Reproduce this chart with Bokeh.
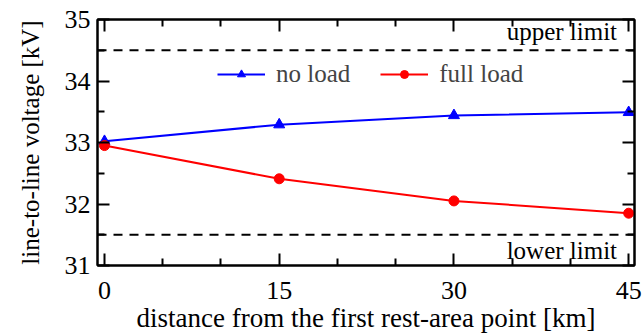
from bokeh.plotting import figure
from bokeh.models import (Range1d, FixedTicker, LinearAxis, Span, Label, Legend, LegendItem)
from bokeh.embed import file_html
from bokeh.resources import INLINE

distance_km = [0, 15, 30, 45]
no_load_kv = [33.02, 33.29, 33.44, 33.49]
full_load_kv = [32.95, 32.41, 32.05, 31.85]
upper_limit_kv = 34.5
lower_limit_kv = 31.5
x_ticks = [0, 15, 30, 45]
x_minor = [5, 10, 20, 25, 35, 40]
y_ticks = [31, 32, 33, 34, 35]
y_minor = [31.5, 32.5, 33.5, 34.5]
x_title = "distance from the first rest-area point [km]"
y_title = "line-to-line voltage [kV]"

FONT = "Liberation Serif"

p = figure(width=642, height=335, output_backend="svg", toolbar_location=None,
           x_range=Range1d(-0.6, 45.5), y_range=Range1d(31, 35),
           min_border_left=97, min_border_right=8, min_border_top=19, min_border_bottom=70)
p.background_fill_color = "white"
p.border_fill_color = "white"
p.outline_line_color = "black"
p.outline_line_width = 2
p.xgrid.visible = False
p.ygrid.visible = False

def style_axis(ax, ticks, minor, labels=True):
    ax.ticker = FixedTicker(ticks=ticks, minor_ticks=minor)
    ax.axis_line_width = 2
    ax.axis_line_color = "black"
    ax.major_tick_in = 12
    ax.major_tick_out = 0
    ax.minor_tick_in = 7
    ax.minor_tick_out = 0
    ax.major_tick_line_width = 2
    ax.minor_tick_line_width = 2
    ax.major_label_text_font = FONT
    ax.major_label_text_font_size = "26px"
    ax.major_label_text_color = "black"
    ax.axis_label_text_font = FONT
    ax.axis_label_text_font_size = "26px"
    ax.axis_label_text_font_style = "normal"
    ax.axis_label_text_color = "black"
    if not labels:
        ax.major_label_text_font_size = "0px"
        ax.major_label_text_alpha = 0

style_axis(p.xaxis[0], x_ticks, x_minor)
style_axis(p.yaxis[0], y_ticks, y_minor)
p.xaxis[0].axis_label = x_title
p.xaxis[0].axis_label_text_font_size = "27px"
p.yaxis[0].axis_label = y_title
p.yaxis[0].axis_label_text_font_size = "25px"
p.xaxis[0].major_label_standoff = 16
p.xaxis[0].axis_label_standoff = 1
p.yaxis[0].major_label_standoff = 7
p.yaxis[0].axis_label_standoff = 18

top_ax = LinearAxis()
style_axis(top_ax, x_ticks, x_minor, labels=False)
right_ax = LinearAxis()
style_axis(right_ax, y_ticks, y_minor, labels=False)
p.add_layout(top_ax, "above")
p.add_layout(right_ax, "right")
top_ax.major_label_standoff = 0
right_ax.major_label_standoff = 0

for yv in (upper_limit_kv, lower_limit_kv):
    p.add_layout(Span(location=yv, dimension="width", line_color="black",
                      line_width=2, line_dash="9 7"))

p.add_layout(Label(x=44.0, y=34.8, text="upper limit", text_align="right",
                   text_baseline="alphabetic", text_font=FONT, text_font_size="25px", text_color="black"))
p.add_layout(Label(x=44.0, y=31.24, text="lower limit", text_align="right",
                   text_baseline="alphabetic", text_font=FONT, text_font_size="25px", text_color="black"))

l1 = p.line(distance_km, no_load_kv, line_color="blue", line_width=2)
m1 = p.scatter(distance_km, no_load_kv, marker="triangle", size=11, color="blue")
l2 = p.line(distance_km, full_load_kv, line_color="red", line_width=2)
m2 = p.scatter(distance_km, full_load_kv, marker="circle", size=10, color="red")

legend = Legend(items=[LegendItem(label="no load", renderers=[l1, m1]),
                       LegendItem(label="full load", renderers=[l2, m2])],
                orientation="horizontal", location=(116, 173),
                label_text_font=FONT, label_text_font_size="25px",
                glyph_width=48, glyph_height=20, label_standoff=11, spacing=30,
                border_line_alpha=0, background_fill_alpha=0, padding=4, margin=0)
p.add_layout(legend, "center")

open("out.html", "w").write(file_html(p, INLINE))
